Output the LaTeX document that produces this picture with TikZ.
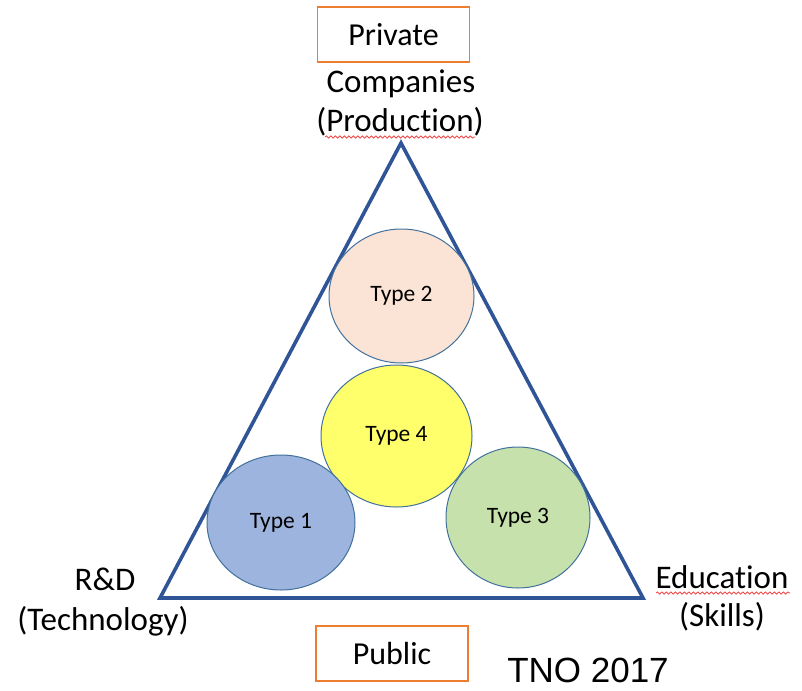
\documentclass[tikz,border=0pt]{standalone}
\usepackage{fontspec}
\setmainfont{Carlito}[Ligatures=NoCommon]
\newfontfamily\arialfont{Liberation Sans}
\usetikzlibrary{shapes.geometric,decorations.pathmorphing}
\definecolor{triblue}{HTML}{2F5597}
\definecolor{ringblue}{HTML}{41719C}
\definecolor{boxorange}{HTML}{ED7D31}
\definecolor{fillone}{HTML}{9DB4DE}
\definecolor{filltwo}{HTML}{FBE4D6}
\definecolor{fillthree}{HTML}{C6E1AB}
\definecolor{fillfour}{HTML}{FFFF6B}
\definecolor{squig}{HTML}{F04848}
\tikzset{
  bigtext/.style={font=\fontsize{33}{40}\selectfont, inner sep=0pt, align=center},
  sectorbox/.style={draw=boxorange, line width=1.3pt, minimum width=152pt, minimum height=55pt, inner sep=0pt, font=\fontsize{32}{38}\selectfont},
  typeblob/.style={ellipse, draw=ringblue, line width=1pt, inner sep=0pt, font=\fontsize{23.5}{28}\selectfont},
  spell/.style={draw=squig, line width=0.8pt, decorate, decoration={snake, amplitude=1.1pt, segment length=4.5pt}}
}
\begin{document}
\begin{tikzpicture}[x=1pt, y=-1pt]
\useasboundingbox (0,0) rectangle (802,690);

% triangle
\coordinate (apex) at (401,143);
\coordinate (bl) at (160,598);
\coordinate (br) at (643,598);
\draw[triblue, line width=3.6pt, line join=miter] (apex) -- (br) -- (bl) -- cycle;

% four types
\node[typeblob, fill=filltwo, minimum width=145pt, minimum height=134pt] (t2) at (401.5,296) {Type 2};
\node[typeblob, fill=fillfour, minimum width=151pt, minimum height=142pt] (t4) at (396.5,436) {Type 4};
\node[typeblob, fill=fillone, minimum width=148pt, minimum height=135pt] (t1) at (281,522.5) {Type 1};
\node[typeblob, fill=fillthree, minimum width=144pt, minimum height=141pt] (t3) at (518,517.5) {Type 3};

% sector boxes
\node[sectorbox] (private) at (393.5,34.5) {Private};
\node[sectorbox] (public) at (392,653.5) {Public};

% corner labels
\node[bigtext] (comp) at (401,84) {Companies};
\node[bigtext] (prod) at (400,122) {(Production)};
\node[bigtext] (rd) at (105,579) {R\&D};
\node[bigtext] (tech) at (103,621) {(Technology)};
\node[bigtext] (edu) at (722,577) {Education};
\node[bigtext] (skills) at (722,617) {(Skills)};

\node[font=\arialfont\fontsize{35}{40}\selectfont, inner sep=0pt] (tno) at (588,670) {TNO 2017};

% spelling marks
\coordinate (pa) at (325,137);
\coordinate (pb) at (475,137);
\draw[spell] (pa) -- (pb);
\coordinate (ea) at (656,593);
\coordinate (eb) at (790,593);
\draw[spell] (ea) -- (eb);
\end{tikzpicture}
\end{document}
